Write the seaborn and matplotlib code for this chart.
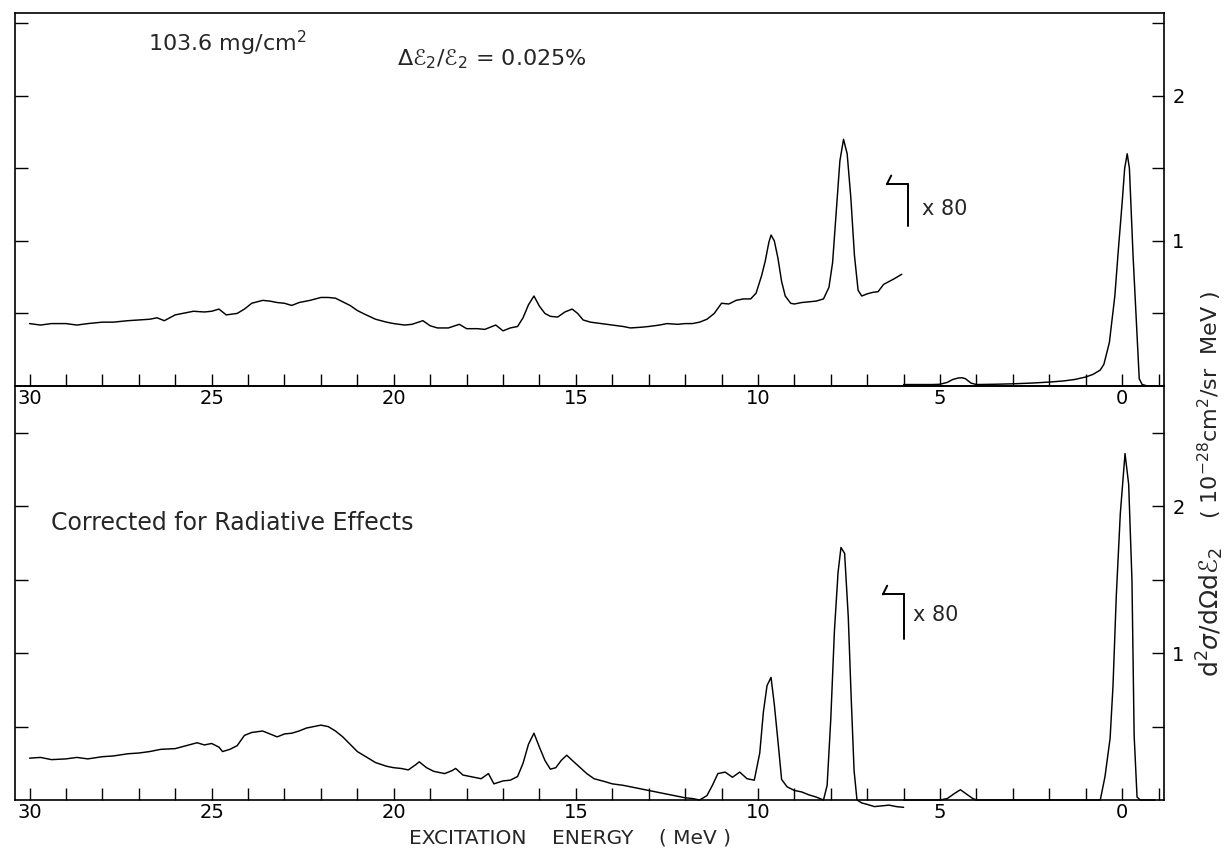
import numpy as np
import pandas as pd
import matplotlib
matplotlib.use("Agg")
import matplotlib.pyplot as plt
import seaborn as sns

# ---------------- data ----------------
# Upper panel, portion multiplied by 80 (E in MeV, cross section)
top_x80_E = [30.0, 29.7, 29.4, 29.0, 28.7, 28.4, 28.0, 27.7, 27.3, 27.0, 26.7, 26.5, 26.3, 26.0,
             25.8, 25.5, 25.2, 25.0, 24.8, 24.6, 24.3, 24.1, 23.9, 23.6, 23.4, 23.2, 23.0, 22.8,
             22.6, 22.3, 22.0, 21.8, 21.6, 21.4, 21.2, 21.0, 20.8, 20.5, 20.2, 20.0, 19.7, 19.5,
             19.2, 19.0, 18.8, 18.5, 18.2, 18.0, 17.7, 17.5, 17.2, 17.0, 16.8, 16.6, 16.45, 16.3,
             16.15, 16.0, 15.85, 15.7, 15.5, 15.3, 15.1, 14.95, 14.8, 14.6, 14.3, 14.0, 13.7, 13.5,
             13.2, 13.0, 12.7, 12.5, 12.2, 12.0, 11.8, 11.6, 11.4, 11.2, 11.0, 10.8, 10.6, 10.4,
             10.2, 10.05, 9.9, 9.8, 9.7, 9.64, 9.55, 9.45, 9.35, 9.25, 9.1, 9.0, 8.8, 8.6, 8.4,
             8.2, 8.05, 7.95, 7.85, 7.75, 7.65, 7.55, 7.45, 7.35, 7.25, 7.15, 7.0, 6.85, 6.7,
             6.55, 6.4, 6.25, 6.05]
top_x80_val = [0.43, 0.42, 0.43, 0.43, 0.42, 0.43, 0.44, 0.44, 0.45, 0.455, 0.46, 0.47, 0.45, 0.49,
               0.50, 0.515, 0.51, 0.515, 0.53, 0.49, 0.50, 0.53, 0.57, 0.59, 0.585, 0.575, 0.57, 0.555,
               0.575, 0.59, 0.61, 0.61, 0.605, 0.58, 0.555, 0.52, 0.495, 0.46, 0.44, 0.43, 0.42, 0.425,
               0.45, 0.415, 0.40, 0.40, 0.425, 0.395, 0.395, 0.39, 0.42, 0.38, 0.40, 0.41, 0.47, 0.56,
               0.62, 0.55, 0.50, 0.48, 0.475, 0.51, 0.53, 0.50, 0.455, 0.44, 0.43, 0.42, 0.41, 0.40,
               0.405, 0.41, 0.42, 0.43, 0.425, 0.43, 0.43, 0.44, 0.46, 0.50, 0.57, 0.565, 0.59, 0.60,
               0.60, 0.64, 0.76, 0.86, 0.99, 1.04, 1.00, 0.88, 0.72, 0.62, 0.57, 0.565, 0.575, 0.58, 0.585,
               0.60, 0.68, 0.85, 1.20, 1.55, 1.70, 1.60, 1.30, 0.90, 0.66, 0.62, 0.635, 0.645, 0.65,
               0.70, 0.72, 0.74, 0.77]

# Upper panel, unscaled portion
top_E = [6.0, 5.6, 5.2, 5.0, 4.8, 4.65, 4.5, 4.4, 4.3, 4.15, 4.0, 3.5, 3.0, 2.5, 2.0, 1.6, 1.3,
         1.0, 0.8, 0.6, 0.5, 0.35, 0.2, 0.1, 0.0, -0.07, -0.14, -0.2, -0.3, -0.38, -0.47, -0.55,
         -0.7, -0.9]
top_val = [0.01, 0.01, 0.01, 0.012, 0.025, 0.045, 0.055, 0.057, 0.05, 0.02, 0.01, 0.012, 0.015,
           0.02, 0.027, 0.035, 0.045, 0.062, 0.08, 0.11, 0.15, 0.30, 0.62, 0.95, 1.26, 1.50, 1.60,
           1.50, 0.90, 0.50, 0.05, 0.01, 0.0, 0.0]

# Lower panel (corrected for radiative effects), portion multiplied by 80
bot_x80_E = [30.0, 29.7, 29.4, 29.0, 28.7, 28.4, 28.0, 27.7, 27.3, 27.0, 26.7, 26.4, 26.0, 25.7,
             25.4, 25.2, 25.0, 24.8, 24.7, 24.5, 24.3, 24.1, 23.9, 23.6, 23.4, 23.2, 23.0, 22.8,
             22.6, 22.4, 22.2, 22.0, 21.8, 21.6, 21.4, 21.2, 21.0, 20.8, 20.5, 20.2, 20.0, 19.8,
             19.6, 19.4, 19.3, 19.1, 18.9, 18.6, 18.4, 18.3, 18.1, 17.9, 17.6, 17.4, 17.25, 17.0,
             16.8, 16.6, 16.45, 16.3, 16.15, 16.0, 15.85, 15.7, 15.55, 15.4, 15.25, 15.1, 14.9,
             14.7, 14.5, 14.2, 14.0, 13.7, 13.5, 13.2, 13.0, 12.7, 12.5, 12.2, 12.0, 11.8, 11.6,
             11.4, 11.25, 11.1, 10.9, 10.7, 10.5, 10.3, 10.1, 9.95, 9.85, 9.75, 9.64, 9.55, 9.45,
             9.35, 9.2, 9.0, 8.8, 8.6, 8.4, 8.2, 8.1, 8.0, 7.9, 7.8, 7.72, 7.62, 7.52, 7.44, 7.36,
             7.28, 7.15, 7.0, 6.8, 6.6, 6.4, 6.2, 6.0]
bot_x80_val = [0.285, 0.29, 0.275, 0.28, 0.29, 0.28, 0.295, 0.30, 0.315, 0.32, 0.33, 0.345, 0.35, 0.37,
               0.39, 0.375, 0.385, 0.36, 0.33, 0.345, 0.37, 0.44, 0.46, 0.47, 0.45, 0.43, 0.45, 0.455,
               0.47, 0.49, 0.50, 0.51, 0.50, 0.47, 0.43, 0.38, 0.33, 0.30, 0.255, 0.23, 0.22, 0.215,
               0.205, 0.24, 0.26, 0.22, 0.195, 0.18, 0.20, 0.215, 0.17, 0.16, 0.145, 0.18, 0.11, 0.13,
               0.135, 0.16, 0.25, 0.38, 0.455, 0.36, 0.27, 0.21, 0.22, 0.27, 0.305, 0.27, 0.225,
               0.18, 0.145, 0.125, 0.11, 0.10, 0.09, 0.075, 0.065, 0.05, 0.04, 0.025, 0.015, 0.01, 0.0,
               0.03, 0.10, 0.18, 0.19, 0.155, 0.19, 0.145, 0.135, 0.32, 0.60, 0.78, 0.835, 0.65, 0.40,
               0.14, 0.09, 0.065, 0.055, 0.035, 0.02, 0.0, 0.10, 0.55, 1.15, 1.55, 1.72, 1.68, 1.25, 0.70,
               0.20, 0.0, -0.02, -0.03, -0.045, -0.04, -0.035, -0.045, -0.05]

# Lower panel, unscaled portion
bot_E = [6.0, 5.5, 5.0, 4.8, 4.6, 4.44, 4.3, 4.1, 4.0, 3.0, 2.0, 1.0, 0.6, 0.47, 0.33, 0.25,
         0.16, 0.05, -0.08, -0.18, -0.27, -0.30, -0.33, -0.41, -0.5, -0.7, -0.9]
bot_val = [0.0, 0.0, 0.0, 0.01, 0.045, 0.07, 0.045, 0.01, 0.0, 0.0, 0.0, 0.0, 0.0, 0.16, 0.42, 0.78,
           1.39, 1.95, 2.36, 2.15, 1.50, 0.97, 0.44, 0.02, 0.0, 0.0, 0.0]

x_major = [30, 25, 20, 15, 10, 5, 0]
x_labels = ["30", "25", "20", "15", "10", "5", "0"]
y_major = [1, 2]
y_labels = ["1", "2"]

# ---------------- figure ----------------
sns.set_style("white")
plt.rcParams["font.family"] = ["DejaVu Sans", "DejaVu Serif", "Noto Sans"]
plt.rcParams["mathtext.fontset"] = "dejavusans"

W, H = 1227, 865
fig = plt.figure(figsize=(W / 100, H / 100), dpi=100)
left, right = 15 / W, 1164 / W
y_top, y_mid, y_bot = 13, 386, 800
ax1 = fig.add_axes([left, 1 - y_mid / H, right - left, (y_mid - y_top) / H])
ax2 = fig.add_axes([left, 1 - y_bot / H, right - left, (y_bot - y_mid) / H])

lc = "black"
lw = 1.05
df_t80 = pd.DataFrame({"E": top_x80_E, "v": top_x80_val})
df_t = pd.DataFrame({"E": top_E, "v": top_val})
df_b80 = pd.DataFrame({"E": bot_x80_E, "v": bot_x80_val})
df_b = pd.DataFrame({"E": bot_E, "v": bot_val})

sns.lineplot(data=df_t80, x="E", y="v", ax=ax1, color=lc, lw=lw, sort=False, estimator=None)
sns.lineplot(data=df_t, x="E", y="v", ax=ax1, color=lc, lw=lw, sort=False, estimator=None)
sns.lineplot(data=df_b80, x="E", y="v", ax=ax2, color=lc, lw=lw, sort=False, estimator=None)
sns.lineplot(data=df_b, x="E", y="v", ax=ax2, color=lc, lw=lw, sort=False, estimator=None)
for ln in ax2.get_lines():
    ln.set_clip_on(False)

for ax, ytop in ((ax1, 2.57), (ax2, 2.82)):
    ax.set_xlim(30.4, -1.15)
    ax.set_ylim(0, ytop)
    ax.set_xlabel("")
    ax.set_ylabel("")
    ax.set_xticks(x_major)
    ax.set_xticklabels(x_labels)
    ax.set_xticks(np.arange(-1, 31, 1), minor=True)
    ax.set_yticks(y_major)
    ax.set_yticklabels(y_labels)
    ax.set_yticks([0.5, 1.5, 2.5], minor=True)
    ax.tick_params(axis="x", which="both", direction="in", length=9, width=1.0,
                   top=False, bottom=True, labelsize=14, pad=2, colors="black")
    ax.tick_params(axis="y", which="both", direction="in", length=9, width=1.0,
                   left=True, right=True, labelleft=False, labelright=True,
                   labelsize=14, pad=6, colors="black")
    for s in ax.spines.values():
        s.set_color("black")
        s.set_linewidth(1.2)
    ax.set_facecolor("none")

# "x 80" markers
def x80_marker(ax, x_hook, x_vert, y_h, y_low, tx, ty, txt):
    ax.plot([x_hook, x_vert], [y_h, y_h], color=lc, lw=1.4)
    ax.plot([x_hook, x_hook - 0.12], [y_h, y_h + 0.06], color=lc, lw=1.4)
    ax.plot([x_vert, x_vert], [y_h, y_low], color=lc, lw=1.4)
    ax.text(tx, ty, txt, fontsize=15, va="center", ha="left")

x80_marker(ax1, 6.46, 5.88, 1.39, 1.10, 5.5, 1.22, "x 80")
x80_marker(ax2, 6.57, 6.0, 1.40, 1.10, 5.75, 1.26, "x 80")

ax1.text(26.75, 2.36, "103.6 mg/cm$^2$", fontsize=16, va="center", ha="left")
ax1.text(19.9, 2.25, "Δℰ$_2$/ℰ$_2$ = 0.025%", fontsize=16, va="center", ha="left")
ax2.text(29.4, 1.89, "Corrected for Radiative Effects", fontsize=17, va="center", ha="left")

fig.text(570 / W, 1 - 838 / H, "EXCITATION    ENERGY    ( MeV )", fontsize=14.5,
         ha="center", va="center")
# right-hand axis title in two parts (rotated)
fig.text(1210 / W, 1 - 405 / H, r"( 10$^{-28}$cm$^2$/sr  MeV )",
         fontsize=16, rotation=90, ha="center", va="center")
fig.text(1210 / W, 1 - 612 / H, r"d$^2\sigma$/d$\Omega$dℰ$_2$",
         fontsize=18, rotation=90, ha="center", va="center")

fig.savefig("out.png", dpi=100, facecolor="white")
